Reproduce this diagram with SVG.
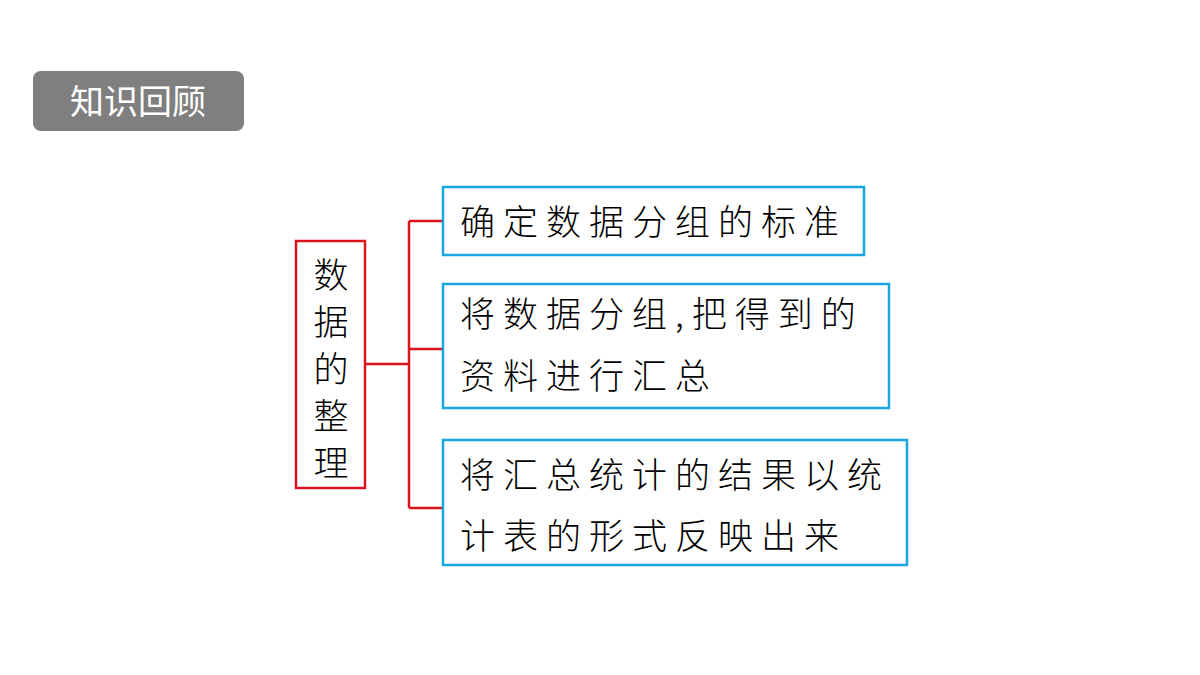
<svg xmlns="http://www.w3.org/2000/svg" width="1200" height="675" viewBox="0 0 1200 675">
<style>
.t{font-family:"Noto Sans CJK SC","Noto Sans",sans-serif;font-size:35px;fill:#000;font-weight:300;letter-spacing:8px}
.b{fill:#fff;stroke:#1aa6e0;stroke-width:2.5}
.c{fill:none;stroke:#d9141c;stroke-width:2.5}
</style>
<rect width="1200" height="675" fill="#fff"/>
<g id="title"><rect x="33" y="71" width="211" height="60" rx="8" fill="#7f7f7f"/>
<text x="138" y="114" text-anchor="middle" style="font-family:'Noto Sans CJK SC',sans-serif;font-size:34px;fill:#fff">知识回顾</text></g>
<g id="connectors">
<path class="c" d="M365 364H409M409 221V508M409 221H443M409 349H443M409 508H443"/>
</g>
<g id="root"><rect x="296" y="241" width="69" height="247" fill="#fff" stroke="#d9141c" stroke-width="2.5"/>
<text class="t" x="331" y="288" text-anchor="middle" style="letter-spacing:0">数</text>
<text class="t" x="331" y="335" text-anchor="middle" style="letter-spacing:0">据</text>
<text class="t" x="331" y="382" text-anchor="middle" style="letter-spacing:0">的</text>
<text class="t" x="331" y="429" text-anchor="middle" style="letter-spacing:0">整</text>
<text class="t" x="331" y="476" text-anchor="middle" style="letter-spacing:0">理</text></g>
<g id="n1"><rect class="b" x="443" y="187" width="421" height="68"/>
<text class="t" x="460" y="235">确定数据分组的标准</text></g>
<g id="n2"><rect class="b" x="443" y="284" width="446" height="124"/>
<text class="t" x="460" y="327">将数据分组,把得到的</text>
<text class="t" x="460" y="389">资料进行汇总</text></g>
<g id="n3"><rect class="b" x="443" y="440" width="464" height="125"/>
<text class="t" x="460" y="488">将汇总统计的结果以统</text>
<text class="t" x="460" y="549">计表的形式反映出来</text></g>
</svg>
